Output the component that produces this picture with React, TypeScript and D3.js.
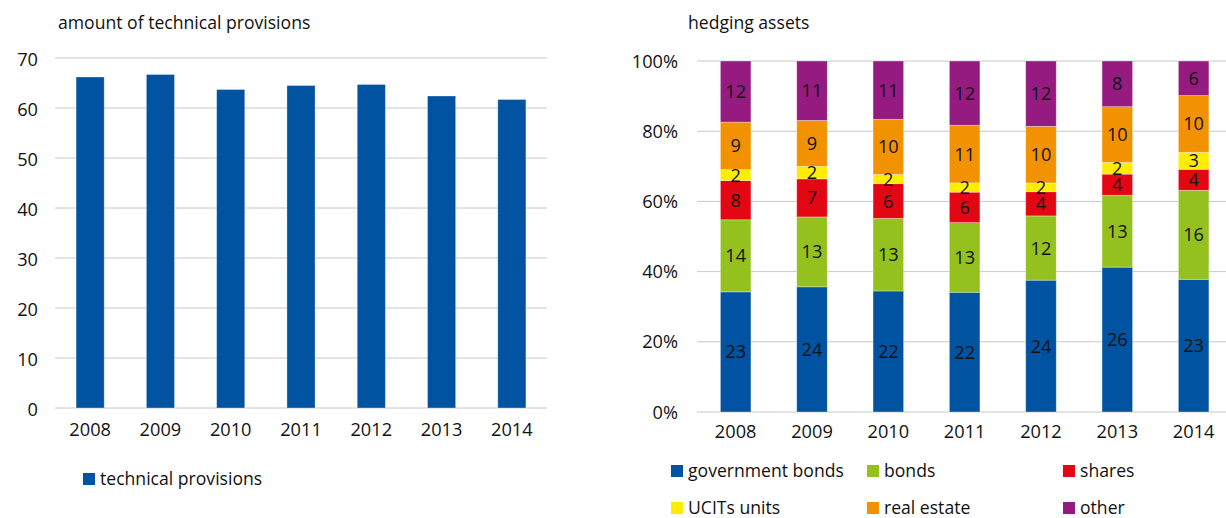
import React from "react";
import * as d3 from "d3";

const years = ["2008", "2009", "2010", "2011", "2012", "2013", "2014"];
const technicalProvisions = [66.2, 66.7, 63.7, 64.5, 64.7, 62.4, 61.7];
const leftTicks = [0, 10, 20, 30, 40, 50, 60, 70];
const rightTicks = [0, 0.2, 0.4, 0.6, 0.8, 1];

const governmentBonds = [23, 24, 22, 22, 24, 26, 23.4];
const bonds = [13.8, 13.4, 13.2, 12.8, 11.7, 12.9, 15.7];
const shares = [7.5, 7.3, 6.3, 5.6, 4.4, 3.8, 3.7];
const ucitsUnits = [2.1, 2.4, 1.7, 1.7, 1.6, 2.1, 3.0];
const realEstate = [9.1, 8.8, 10.0, 10.6, 10.3, 10.0, 10.0];
const other = [11.7, 11.4, 10.6, 11.8, 11.9, 8.2, 6.1];

const seriesNames = ["government bonds", "bonds", "shares", "UCITs units", "real estate", "other"];
const seriesColors = ["#0053a1", "#95c11f", "#e30613", "#ffed00", "#f39200", "#951b81"];
const seriesValues = [governmentBonds, bonds, shares, ucitsUnits, realEstate, other];

const FONT = "'Open Sans', sans-serif";
const FS = 17.6;
const TFS = 18.2;
const TXT = "#111111";
const GRID = "#c8c8c8";

export default function App() {
  // Left chart
  const lx = d3.scaleBand<string>().domain(years).range([55, 547]).paddingInner(0.6).paddingOuter(0.3);
  const ly = d3.scaleLinear().domain([0, 70]).range([408, 58]);

  // Right chart
  const rx = d3.scaleBand<string>().domain(years).range([697.5, 1231.8]).paddingInner(0.6).paddingOuter(0.3);
  const ry = d3.scaleLinear().domain([0, 1]).range([412, 61]);

  const table = years.map((y, i) => {
    const row: Record<string, number | string> = { year: y };
    seriesNames.forEach((s, k) => (row[s] = seriesValues[k][i]));
    return row;
  });
  const stacked = d3
    .stack<Record<string, number | string>>()
    .keys(seriesNames)
    .value((d, key) => d[key] as number)
    .offset(d3.stackOffsetExpand)(table);
  const pct = d3.format(".0%");

  const legendCols = [671, 867, 1063];
  const legendRows = [465, 502];

  return (
    <div style={{ position: "absolute", left: 0, top: 0, width: 1226, height: 518, overflow: "hidden" }}>
      <svg width={1226} height={518} style={{ display: "block", background: "#fff" }} fontFamily={FONT}>
        {/* LEFT CHART */}
        <text x={58} y={29} fontSize={FS} fill={TXT}>amount of technical provisions</text>
        {leftTicks.map((t) => (
          <g key={"lt" + t}>
            <line x1={55} x2={547} y1={ly(t)} y2={ly(t)} stroke={GRID} strokeWidth={1} />
            <text x={38} y={ly(t) + 7.5} fontSize={TFS} fill={TXT} textAnchor="end">{t}</text>
          </g>
        ))}
        {years.map((y, i) => (
          <rect
            key={"lb" + y}
            x={lx(y)!}
            y={ly(technicalProvisions[i])}
            width={lx.bandwidth()}
            height={ly(0) - ly(technicalProvisions[i])}
            fill="#0053a1"
            stroke="#ffffff"
            strokeOpacity={0.4}
            strokeWidth={0.8}
          />
        ))}
        {years.map((y) => (
          <text key={"lx" + y} x={lx(y)! + lx.bandwidth() / 2} y={436} fontSize={TFS} fill={TXT} textAnchor="middle">{y}</text>
        ))}
        <rect x={83} y={473} width={12} height={12} fill="#0053a1" />
        <text x={100} y={485} fontSize={FS} fill={TXT}>technical provisions</text>

        {/* RIGHT CHART */}
        <text x={688} y={29} fontSize={FS} fill={TXT}>hedging assets</text>
        {rightTicks.map((t) => (
          <g key={"rt" + t}>
            <line x1={697} x2={1232} y1={ry(t)} y2={ry(t)} stroke={GRID} strokeWidth={1} />
            <text x={678} y={ry(t) + 6.5} fontSize={TFS} fill={TXT} textAnchor="end">{pct(t)}</text>
          </g>
        ))}
        {stacked.map((layer, k) => (
          <g key={"layer" + k}>
            {layer.map((d, i) => (
              <rect
                key={"seg" + k + "-" + i}
                x={rx(years[i])!}
                y={ry(d[1])}
                width={rx.bandwidth()}
                height={ry(d[0]) - ry(d[1])}
                fill={seriesColors[k]}
                stroke="#ffffff"
                strokeOpacity={0.4}
                strokeWidth={0.8}
              />
            ))}
          </g>
        ))}
        {stacked.map((layer, k) => (
          <g key={"lab" + k}>
            {layer.map((d, i) => (
              <text
                key={"l" + k + "-" + i}
                x={rx(years[i])! + rx.bandwidth() / 2}
                y={(ry(d[0]) + ry(d[1])) / 2 + 6.5}
                fontSize={TFS}
                fill={TXT}
                textAnchor="middle"
              >
                {Math.round(seriesValues[k][i])}
              </text>
            ))}
          </g>
        ))}
        {years.map((y) => (
          <text key={"rx" + y} x={rx(y)! + rx.bandwidth() / 2} y={438} fontSize={TFS} fill={TXT} textAnchor="middle">{y}</text>
        ))}
        {seriesNames.map((s, k) => {
          const cx = legendCols[k % 3];
          const cy = legendRows[Math.floor(k / 3)];
          return (
            <g key={"lg" + s}>
              <rect x={cx} y={cy} width={12} height={12} fill={seriesColors[k]} />
              <text x={cx + 17} y={cy + 12} fontSize={FS} fill={TXT}>{s}</text>
            </g>
          );
        })}
      </svg>
    </div>
  );
}
